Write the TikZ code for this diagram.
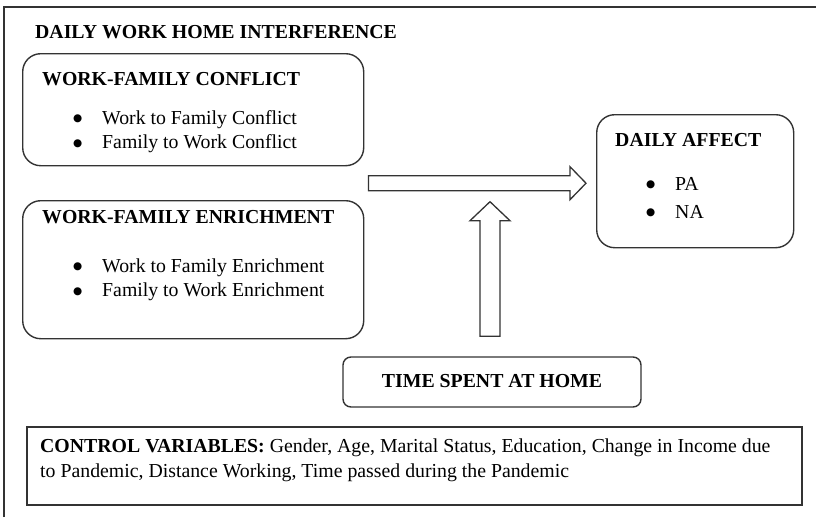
\documentclass[tikz,border=0pt]{standalone}
\usepackage{fontspec}
\setmainfont{Liberation Serif}
\newfontfamily\dotfont{DejaVu Sans}
\usetikzlibrary{calc,positioning}

% bullet line inside a box
\newcommand{\bitem}[1]{\hspace*{31pt}\makebox[29pt][l]{\raisebox{2.5pt}{\dotfont\fontsize{10.5}{10.5}\selectfont ●}}#1}
% hollow block arrow: from, to, half shaft, half head, head length
\newcommand{\hollowarrow}[5]{%
  \draw[blockarrow] let \p1=(#1), \p2=(#2),
    \n1={atan2((\y2)-(\y1),(\x2)-(\x1))}, \n2={veclen((\x2)-(\x1),(\y2)-(\y1))} in
    [shift={(\p1)}, rotate=\n1]
    (0,-#3) -- ({\n2-#5},-#3) -- ({\n2-#5},-#4) -- (\n2,0) -- ({\n2-#5},#4) -- ({\n2-#5},#3) -- (0,#3) -- cycle;}

\begin{document}
\begin{tikzpicture}[x=1pt,y=1pt,
  every node/.style={font=\fontsize{19.8}{24.5}\selectfont, inner sep=0pt},
  frame/.style={draw=black!80, line width=1.4pt},
  roundbox/.style={frame, rounded corners=18pt, anchor=north west},
  boxtext/.style={align=left, anchor=north west},
  blockarrow/.style={draw=black!80, line width=1.3pt, fill=white, line join=miter}]

\useasboundingbox (0,0) rectangle (816,-517);
\draw[black!80, line width=1.8pt] (4,-517) -- (4,-7) -- (816,-7);

\node[anchor=base west, font=\fontsize{19.8}{24.5}\selectfont\bfseries] (title) at (35,-38) {DAILY WORK HOME INTERFERENCE};

\node[roundbox, minimum width=341pt, minimum height=112pt] (conf) at (22,-53) {};
\node[boxtext] (conftxt) at (42,-72) {\textbf{WORK-FAMILY CONFLICT}\\[14.5pt]\bitem{Work to Family Conflict}\\\bitem{Family to Work Conflict}};

\node[roundbox, minimum width=341pt, minimum height=138pt] (enr) at (22,-200) {};
\node[boxtext] (enrtxt) at (42,-210) {\textbf{WORK-FAMILY ENRICHMENT}\\[24.5pt]\bitem{Work to Family Enrichment}\\\bitem{Family to Work Enrichment}};

\node[roundbox, minimum width=197pt, minimum height=133pt] (affect) at (596,-114) {};
\node[boxtext] (affecttxt) at (615,-133) {\textbf{DAILY AFFECT}\\[19.5pt]\bitem{PA}\\[3.5pt]\bitem{NA}};

\node[frame, rounded corners=8pt, minimum width=298pt, minimum height=50pt, font=\fontsize{19.8}{24.5}\selectfont\bfseries] (timeh) at (492,-382) {\raisebox{3pt}{TIME SPENT AT HOME}};

\node[frame, line width=1.8pt, anchor=north west, minimum width=775pt, minimum height=78pt] (ctrl) at (26,-426) {};
\node[boxtext] (ctrltxt) at (40,-439) {\textbf{CONTROL VARIABLES:} Gender, Age, Marital Status, Education, Change in Income due\\[0.5pt]to Pandemic, Distance Working, Time passed during the Pandemic};

\coordinate (hs) at ($(conf.south east)!0.5!(enr.north east)+(4,0)$);
\coordinate (he) at ($(hs -| affect.west)+(-10,0)$);
\coordinate (vs) at ($(timeh.north)+(-2,20)$);
\coordinate (ve) at ($(vs |- hs)+(0,-18.5)$);

\hollowarrow{hs}{he}{7.5}{16.5}{16}
\hollowarrow{vs}{ve}{10}{20}{19}
\end{tikzpicture}
\end{document}
